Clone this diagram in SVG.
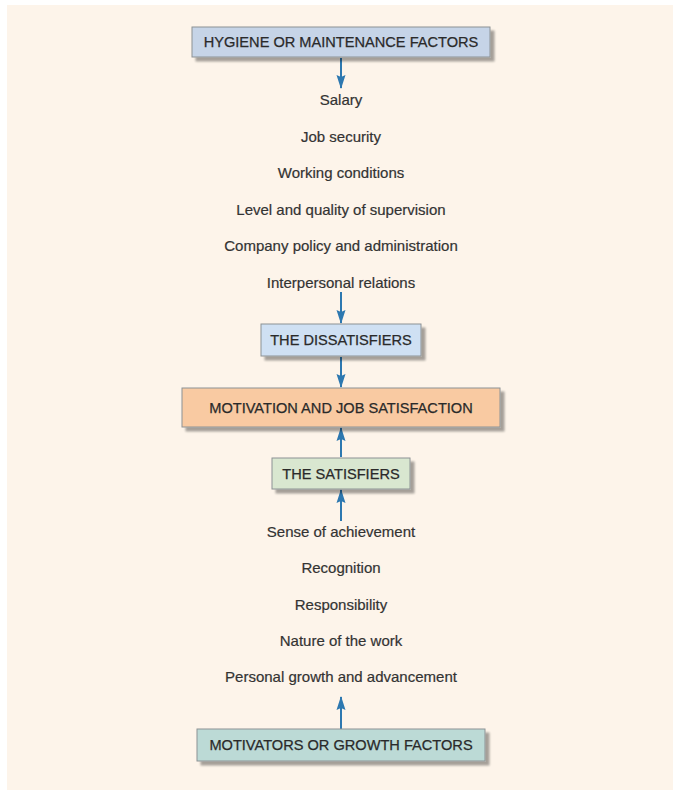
<svg xmlns="http://www.w3.org/2000/svg" width="675" height="790" viewBox="0 0 675 790">
<defs>
<marker id="arr" viewBox="0 0 14 10" refX="13" refY="5" markerWidth="14" markerHeight="10" markerUnits="userSpaceOnUse" orient="auto">
<path d="M0,0.5 L14,5 L0,9.5 L2,5 Z" fill="#2d78b0"/>
</marker>
<filter id="sh" x="-5%" y="-20%" width="115%" height="160%">
<feGaussianBlur in="SourceAlpha" stdDeviation="1.2"/>
<feOffset dx="4" dy="4"/>
<feComponentTransfer><feFuncA type="linear" slope="0.35"/></feComponentTransfer>
<feMerge><feMergeNode/><feMergeNode in="SourceGraphic"/></feMerge>
</filter>
</defs>
<style>
.box{stroke:#8c9294;stroke-width:1;filter:url(#sh)}
.bt{font-family:"Liberation Sans",Arial,sans-serif;font-size:14.6px;fill:#2a2a2a;text-anchor:middle;stroke:#2a2a2a;stroke-width:0.25}
.it{font-family:"Liberation Sans",Arial,sans-serif;font-size:15px;fill:#333333;text-anchor:middle;stroke:#333333;stroke-width:0.2}
.cn{stroke:#2d78b0;stroke-width:2;fill:none;marker-end:url(#arr)}
</style>
<rect width="675" height="790" fill="#ffffff"/>
<rect x="7" y="5" width="666" height="785" fill="#fdf4ea"/>

<g id="connectors">
<line class="cn" x1="341" y1="58" x2="341" y2="88"/>
<line class="cn" x1="341" y1="292" x2="341" y2="323"/>
<line class="cn" x1="341" y1="357" x2="341" y2="387"/>
<line class="cn" x1="341" y1="457" x2="341" y2="428"/>
<line class="cn" x1="341" y1="521" x2="341" y2="490"/>
<line class="cn" x1="341" y1="729" x2="341" y2="697"/>
</g>

<g id="hygiene">
<rect class="box" x="192" y="27" width="298" height="30" fill="#c6d4e7"/>
<text class="bt" x="341" y="47">HYGIENE OR MAINTENANCE FACTORS</text>
</g>

<g id="hygiene-items">
<text class="it" x="341" y="105">Salary</text>
<text class="it" x="341" y="142">Job security</text>
<text class="it" x="341" y="178">Working conditions</text>
<text class="it" x="341" y="215">Level and quality of supervision</text>
<text class="it" x="341" y="251">Company policy and administration</text>
<text class="it" x="341" y="288">Interpersonal relations</text>
</g>

<g id="dissatisfiers">
<rect class="box" x="261" y="324" width="160" height="32" fill="#cfe0f3"/>
<text class="bt" x="341" y="345">THE DISSATISFIERS</text>
</g>

<g id="motivation">
<rect class="box" x="182" y="388" width="318" height="39" fill="#f9caa2"/>
<text class="bt" x="341" y="413">MOTIVATION AND JOB SATISFACTION</text>
</g>

<g id="satisfiers">
<rect class="box" x="272" y="458" width="138" height="31" fill="#d9e7d0"/>
<text class="bt" x="341" y="479">THE SATISFIERS</text>
</g>

<g id="motivator-items">
<text class="it" x="341" y="537">Sense of achievement</text>
<text class="it" x="341" y="573">Recognition</text>
<text class="it" x="341" y="610">Responsibility</text>
<text class="it" x="341" y="646">Nature of the work</text>
<text class="it" x="341" y="682">Personal growth and advancement</text>
</g>

<g id="motivators">
<rect class="box" x="197" y="729" width="288" height="32" fill="#bcdad6"/>
<text class="bt" x="341" y="750">MOTIVATORS OR GROWTH FACTORS</text>
</g>
</svg>
